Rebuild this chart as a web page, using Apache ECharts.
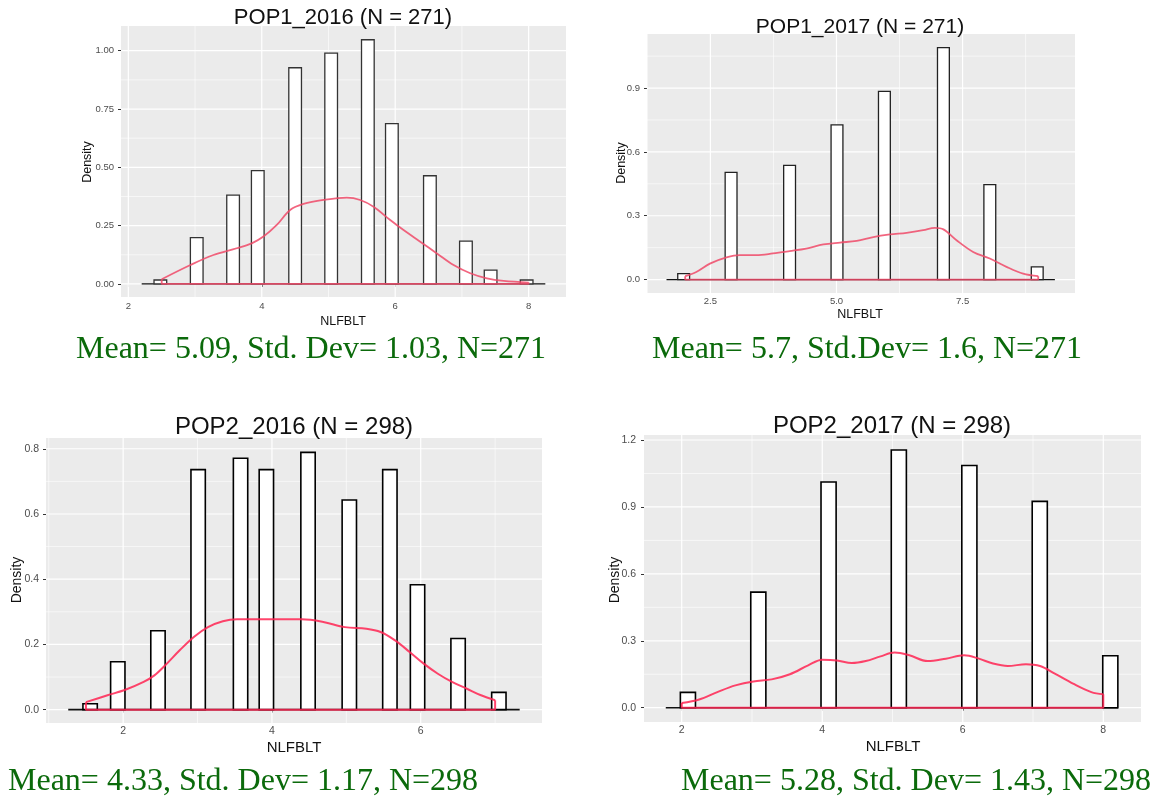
<!DOCTYPE html>
<html><head><meta charset="utf-8">
<script src="https://cdn.jsdelivr.net/npm/echarts@6/dist/echarts.min.js"></script>
<style>html,body{margin:0;padding:0;background:#fff}#c{width:1156px;height:802px}</style>
</head><body><div id="c"></div>
<script>
// ---------- DATA ----------
const titles = ['POP1_2016 (N = 271)', 'POP1_2017 (N = 271)', 'POP2_2016 (N = 298)', 'POP2_2017 (N = 298)'];
const captions = ['Mean= 5.09, Std. Dev= 1.03, N=271', 'Mean= 5.7, Std.Dev= 1.6, N=271',
                  'Mean= 4.33, Std. Dev= 1.17, N=298', 'Mean= 5.28, Std. Dev= 1.43, N=298'];
const xTitle = 'NLFBLT';
const yTitle = 'Density';

// Panel 1: POP1_2016
const p1BarX = [2.48, 3.025, 3.57, 3.94, 4.5, 5.04, 5.59, 5.95, 6.52, 7.06, 7.43, 7.97];
const p1BarY = [0.017, 0.199, 0.381, 0.486, 0.927, 0.99, 1.047, 0.687, 0.464, 0.184, 0.059, 0.017];
const p1BinWidth = 0.19;
const p1BinRange = [2.2, 8.25];
const p1DensX = [2.5, 2.93, 3.275, 3.625, 3.85, 4.025, 4.225, 4.425, 4.625, 4.925, 5.275, 5.475, 5.675, 5.925, 6.125, 6.375, 6.625, 6.875, 7.125, 7.375, 7.625, 8.0];
const p1DensY = [0.02, 0.081, 0.124, 0.153, 0.174, 0.203, 0.253, 0.317, 0.343, 0.36, 0.37, 0.36, 0.331, 0.274, 0.231, 0.181, 0.131, 0.081, 0.046, 0.024, 0.013, 0.006];
const p1XTicks = [2, 4, 6, 8];
const p1XLabels = ['2', '4', '6', '8'];
const p1XMinor = [3, 5, 7];
const p1YTicks = [0, 0.25, 0.5, 0.75, 1.0];
const p1YLabels = ['0.00', '0.25', '0.50', '0.75', '1.00'];
const p1YMinor = [0.125, 0.375, 0.625, 0.875];
const p1XRange = [1.89, 8.56];
const p1YRange = [-0.056, 1.106];

// Panel 2: POP1_2017
const p2BarX = [1.97, 2.91, 4.07, 5.01, 5.95, 7.12, 8.04, 8.98];
const p2BarY = [0.028, 0.504, 0.537, 0.727, 0.884, 1.09, 0.446, 0.06];
const p2BinWidth = 0.235;
const p2BinRange = [1.63, 9.33];
const p2DensX = [2.0, 2.22, 2.49, 2.82, 3.08, 3.41, 3.74, 4.07, 4.4, 4.74, 5.07, 5.4, 5.73, 6.06, 6.39, 6.72, 6.95, 7.12, 7.38, 7.71, 8.04, 8.37, 8.70, 9.0];
const p2DensY = [0.016, 0.036, 0.075, 0.104, 0.115, 0.115, 0.123, 0.134, 0.146, 0.165, 0.174, 0.182, 0.2, 0.212, 0.22, 0.232, 0.243, 0.236, 0.185, 0.13, 0.099, 0.06, 0.028, 0.016];
const p2XTicks = [2.5, 5, 7.5];
const p2XLabels = ['2.5', '5.0', '7.5'];
const p2XMinor = [1.25, 3.75, 6.25, 8.75];
const p2YTicks = [0, 0.3, 0.6, 0.9];
const p2YLabels = ['0.0', '0.3', '0.6', '0.9'];
const p2YMinor = [0.15, 0.45, 0.75, 1.05];
const p2XRange = [1.243, 9.729];
const p2YRange = [-0.063, 1.154];

// Panel 3: POP2_2016
const p3BarX = [1.556, 1.928, 2.468, 3.008, 3.578, 3.925, 4.485, 5.04, 5.585, 5.957, 6.502, 7.05];
const p3BarY = [0.018, 0.147, 0.242, 0.736, 0.771, 0.736, 0.789, 0.643, 0.736, 0.383, 0.218, 0.053];
const p3BinWidth = 0.193;
const p3BinRange = [1.262, 7.33];
const p3DensX = [1.5, 1.79, 2.03, 2.275, 2.42, 2.565, 2.76, 2.95, 3.14, 3.34, 3.53, 3.96, 4.40, 4.69, 4.98, 5.27, 5.46, 5.65, 5.85, 6.04, 6.23, 6.42, 6.62, 6.81, 7.0];
const p3DensY = [0.023, 0.044, 0.061, 0.085, 0.105, 0.136, 0.182, 0.223, 0.253, 0.271, 0.277, 0.277, 0.277, 0.269, 0.253, 0.248, 0.238, 0.213, 0.177, 0.141, 0.11, 0.085, 0.064, 0.044, 0.029];
const p3XTicks = [2, 4, 6];
const p3XLabels = ['2', '4', '6'];
const p3XMinor = [1, 3, 5, 7];
const p3YTicks = [0, 0.2, 0.4, 0.6, 0.8];
const p3YLabels = ['0.0', '0.2', '0.4', '0.6', '0.8'];
const p3YMinor = [0.1, 0.3, 0.5, 0.7];
const p3XRange = [0.963, 7.63];
const p3YRange = [-0.041, 0.833];

// Panel 4: POP2_2017
const p4BarX = [2.088, 3.09, 4.09, 5.09, 6.094, 7.096, 8.10];
const p4BarY = [0.069, 0.518, 1.012, 1.155, 1.086, 0.925, 0.233];
const p4BinWidth = 0.215;
const p4BinRange = [1.773, 8.21];
const p4DensX = [2.0, 2.248, 2.506, 2.764, 3.02, 3.28, 3.54, 3.8, 4.0, 4.21, 4.42, 4.62, 4.83, 5.03, 5.24, 5.5, 5.76, 6.02, 6.23, 6.43, 6.64, 6.9, 7.1, 7.31, 7.57, 7.83, 8.0];
const p4DensY = [0.021, 0.037, 0.07, 0.1, 0.118, 0.127, 0.15, 0.19, 0.215, 0.212, 0.2, 0.209, 0.23, 0.247, 0.235, 0.209, 0.22, 0.235, 0.22, 0.198, 0.187, 0.195, 0.187, 0.153, 0.108, 0.07, 0.06];
const p4XTicks = [2, 4, 6, 8];
const p4XLabels = ['2', '4', '6', '8'];
const p4XMinor = [3, 5, 7];
const p4YTicks = [0, 0.3, 0.6, 0.9, 1.2];
const p4YLabels = ['0.0', '0.3', '0.6', '0.9', '1.2'];
const p4YMinor = [0.15, 0.45, 0.75, 1.05];
const p4XRange = [1.463, 8.537];
const p4YRange = [-0.064, 1.2225];

// ---------- LAYOUT / STYLE ----------
const panels = [
  {barX:p1BarX, barY:p1BarY, bw:p1BinWidth, binRange:p1BinRange, dx:p1DensX, dy:p1DensY,
   xt:p1XTicks, xl:p1XLabels, xm:p1XMinor, yt:p1YTicks, yl:p1YLabels, ym:p1YMinor, xr:p1XRange, yr:p1YRange,
   grid:{left:121, top:26, width:445, height:271}, title:[343,18,22], ytitle:[88,162,12.5], xtitle:[343,322,12.5],
   cap:[76,350], tick:9.5, xm_:4, ym_:7, stroke:'#333', bwl:1.3, red:'#F04A68', rw:1.8},
  {barX:p2BarX, barY:p2BarY, bw:p2BinWidth, binRange:p2BinRange, dx:p2DensX, dy:p2DensY,
   xt:p2XTicks, xl:p2XLabels, xm:p2XMinor, yt:p2YTicks, yl:p2YLabels, ym:p2YMinor, xr:p2XRange, yr:p2YRange,
   grid:{left:647, top:34, width:428, height:259}, title:[860,27,21], ytitle:[622,163,12.5], xtitle:[860,315,12.5],
   cap:[652,350], tick:9.5, xm_:3, ym_:7, stroke:'#222', bwl:1.3, red:'#F04A68', rw:1.8},
  {barX:p3BarX, barY:p3BarY, bw:p3BinWidth, binRange:p3BinRange, dx:p3DensX, dy:p3DensY,
   xt:p3XTicks, xl:p3XLabels, xm:p3XMinor, yt:p3YTicks, yl:p3YLabels, ym:p3YMinor, xr:p3XRange, yr:p3YRange,
   grid:{left:46, top:438, width:496, height:285}, title:[294,427,24], ytitle:[17,580,14], xtitle:[294,748,15],
   cap:[8,782], tick:10.5, xm_:3, ym_:7, stroke:'#000', bwl:1.6, red:'#FF2452', rw:2},
  {barX:p4BarX, barY:p4BarY, bw:p4BinWidth, binRange:p4BinRange, dx:p4DensX, dy:p4DensY,
   xt:p4XTicks, xl:p4XLabels, xm:p4XMinor, yt:p4YTicks, yl:p4YLabels, ym:p4YMinor, xr:p4XRange, yr:p4YRange,
   grid:{left:644, top:435, width:497, height:287}, title:[892,426,24], ytitle:[615,580,14], xtitle:[893,747,15],
   cap:[681,782], tick:10.5, xm_:3, ym_:8, stroke:'#000', bwl:1.6, red:'#FF2452', rw:2}
];

const grids = [], xAxes = [], yAxes = [], series = [], graphics = [];
const sans = '"Liberation Sans", Arial, sans-serif';

panels.forEach((p, i) => {
  grids.push(Object.assign({show:true, backgroundColor:'#EBEBEB', borderWidth:0, containLabel:false}, p.grid));
  xAxes.push({gridIndex:i, type:'value', min:p.xr[0], max:p.xr[1],
    axisLine:{show:false}, splitLine:{show:false},
    axisTick:{show:true, customValues:p.xt, length:3, lineStyle:{color:'#333', width:1}},
    axisLabel:{customValues:p.xt, formatter:v => p.xl[p.xt.indexOf(v)], color:'#4D4D4D', fontSize:p.tick, margin:p.xm_, fontFamily:sans}});
  yAxes.push({gridIndex:i, type:'value', min:p.yr[0], max:p.yr[1],
    axisLine:{show:false}, splitLine:{show:false},
    axisTick:{show:true, customValues:p.yt, length:3, lineStyle:{color:'#333', width:1}},
    axisLabel:{customValues:p.yt, formatter:v => p.yl[p.yt.indexOf(v)], color:'#4D4D4D', fontSize:p.tick, margin:p.ym_, fontFamily:sans}});

  // gridlines: [x, y, orient(0=vertical,1=horizontal), major]
  const gl = [];
  p.xm.forEach(v => gl.push([v, p.yr[0], 0, 0]));
  p.ym.forEach(v => gl.push([p.xr[0], v, 1, 0]));
  p.xt.forEach(v => gl.push([v, p.yr[0], 0, 1]));
  p.yt.forEach(v => gl.push([p.xr[0], v, 1, 1]));
  series.push({type:'custom', xAxisIndex:i, yAxisIndex:i, z:1, silent:true, data:gl, encode:{x:0, y:1},
    renderItem:(params, api) => {
      const cs = params.coordSys;
      const pt = api.coord([api.value(0), api.value(1)]);
      const major = api.value(3) === 1;
      const shape = api.value(2) === 0
        ? {x1:pt[0], y1:cs.y, x2:pt[0], y2:cs.y + cs.height}
        : {x1:cs.x, y1:pt[1], x2:cs.x + cs.width, y2:pt[1]};
      return {type:'line', shape, style:{stroke:'#FFFFFF', lineWidth: major ? 1.2 : 0.6}};
    }});

  // black zero-baseline of empty bins
  series.push({type:'line', xAxisIndex:i, yAxisIndex:i, z:2, silent:true, symbol:'none',
    data:[[p.binRange[0], 0], [p.binRange[1], 0]], lineStyle:{color:'#111', width:p.bwl}});

  // histogram bars
  series.push({type:'custom', xAxisIndex:i, yAxisIndex:i, z:3, silent:true,
    data:p.barX.map((x, k) => [x, p.barY[k]]), encode:{x:0, y:1},
    renderItem:(params, api) => {
      const x = api.value(0), h = api.value(1);
      const a = api.coord([x - p.bw / 2, 0]), b = api.coord([x + p.bw / 2, h]);
      return {type:'rect', shape:{x:a[0], y:b[1], width:b[0] - a[0], height:a[1] - b[1]},
        style:{fill:'#FFFFFF', stroke:p.stroke, lineWidth:p.bwl}};
    }});

  // density curve
  series.push({type:'line', xAxisIndex:i, yAxisIndex:i, z:5, silent:true, symbol:'none', smooth:0.35,
    data:p.dx.map((x, k) => [x, p.dy[k]]), lineStyle:{color:p.red, width:p.rw, opacity:0.85}});
  const n = p.dx.length - 1;
  series.push({type:'line', xAxisIndex:i, yAxisIndex:i, z:5, silent:true, symbol:'none',
    data:[[p.dx[0], p.dy[0]], [p.dx[0], 0], [p.dx[n], 0], [p.dx[n], p.dy[n]]],
    lineStyle:{color:p.red, width:p.rw, opacity:0.85}});

  graphics.push({type:'text', x:p.title[0], y:p.title[1], silent:true,
    style:{text:titles[i], font:`${p.title[2]}px ${sans}`, fill:'#111', align:'center', verticalAlign:'middle'}});
  graphics.push({type:'text', x:p.ytitle[0], y:p.ytitle[1], rotation:Math.PI / 2, silent:true,
    style:{text:yTitle, font:`${p.ytitle[2]}px ${sans}`, fill:'#111', align:'center', verticalAlign:'middle'}});
  graphics.push({type:'text', x:p.xtitle[0], y:p.xtitle[1], silent:true,
    style:{text:xTitle, font:`${p.xtitle[2]}px ${sans}`, fill:'#111', align:'center', verticalAlign:'middle'}});
  graphics.push({type:'text', x:p.cap[0], y:p.cap[1], silent:true,
    style:{text:captions[i], font:'32px "Liberation Serif", "Times New Roman", serif', fill:'#0B6A0B', align:'left', verticalAlign:'middle'}});
});

const chart = echarts.init(document.getElementById('c'), null, {renderer:'canvas'});
chart.setOption({animation:false, backgroundColor:'#FFFFFF', grid:grids, xAxis:xAxes, yAxis:yAxes, series, graphic:graphics});
</script></body></html>
